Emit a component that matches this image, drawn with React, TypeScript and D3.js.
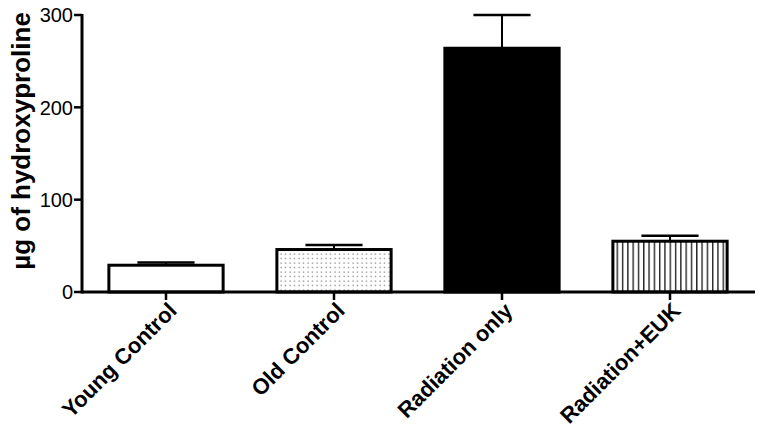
import React from 'react';
import * as d3 from 'd3';

const categories = ['Young Control', 'Old Control', 'Radiation only', 'Radiation+EUK'];
const means = [29, 46, 264, 55];
const errors = [3, 5, 36, 6];
const fills = ['white', 'url(#dots)', 'black', 'url(#vlines)'];
const yTicks = [0, 100, 200, 300];

const W = 764;
const H = 431;
const margin = { top: 15, left: 82, right: 10, bottom: 139 };

export default function App() {
  const x = d3.scaleBand()
    .domain(categories)
    .range([margin.left, W - margin.right])
    .paddingInner(0.32)
    .paddingOuter(0.16);

  const y = d3.scaleLinear()
    .domain([0, 300])
    .range([H - margin.bottom, margin.top]);

  const bw = x.bandwidth();
  const y0 = y(0);

  return (
    <svg width={W} height={H} style={{ position: 'absolute', left: 0, top: 0, background: 'white' }}
      fontFamily="Arial, 'Liberation Sans', sans-serif">
      <defs>
        <pattern id="dots" width={4.5} height={4.5} patternUnits="userSpaceOnUse">
          <rect width={4.5} height={4.5} fill="white" />
          <rect x={1.5} y={1.5} width={1.1} height={1.1} fill="#555" />
        </pattern>
        <pattern id="vlines" width={5.3} height={10} patternUnits="userSpaceOnUse">
          <rect width={5.3} height={10} fill="white" />
          <line x1={2.5} x2={2.5} y1={0} y2={10} stroke="black" strokeWidth={1.2} />
        </pattern>
      </defs>

      {/* bars */}
      {categories.map((c, i) => {
        const cx = x(c)! + bw / 2;
        const top = y(means[i]);
        const errTop = y(means[i] + errors[i]);
        return (
          <g key={c}>
            <line x1={cx} x2={cx} y1={top} y2={errTop} stroke="black" strokeWidth={2} />
            <line x1={cx - bw / 4} x2={cx + bw / 4} y1={errTop} y2={errTop} stroke="black" strokeWidth={2.5} />
            <rect x={x(c)} y={top} width={bw} height={y0 - top}
              fill={fills[i]} stroke="black" strokeWidth={3} />
          </g>
        );
      })}

      {/* y axis */}
      <line x1={margin.left} x2={margin.left} y1={margin.top - 1} y2={y0 + 1.5} stroke="black" strokeWidth={3} />
      {yTicks.map(t => (
        <g key={t}>
          <line x1={margin.left - 8} x2={margin.left} y1={y(t)} y2={y(t)} stroke="black" strokeWidth={2.5} />
          <text x={margin.left - 9} y={y(t)} dy="0.36em" textAnchor="end" fontSize={20}>{t}</text>
        </g>
      ))}
      <text transform={`translate(30,141) rotate(-90)`} textAnchor="middle"
        fontSize={26} fontWeight="bold">µg of hydroxyproline</text>

      {/* x axis */}
      <line x1={margin.left} x2={W - margin.right + 1} y1={y0} y2={y0} stroke="black" strokeWidth={3} />
      {categories.map(c => {
        const cx = x(c)! + bw / 2;
        return (
          <g key={c}>
            <line x1={cx} x2={cx} y1={y0} y2={y0 + 8} stroke="black" strokeWidth={2.5} />
            <text transform={`translate(${cx + 12},${y0 + 20}) rotate(-45)`} textAnchor="end"
              fontSize={22} fontWeight="bold">{c}</text>
          </g>
        );
      })}
    </svg>
  );
}
